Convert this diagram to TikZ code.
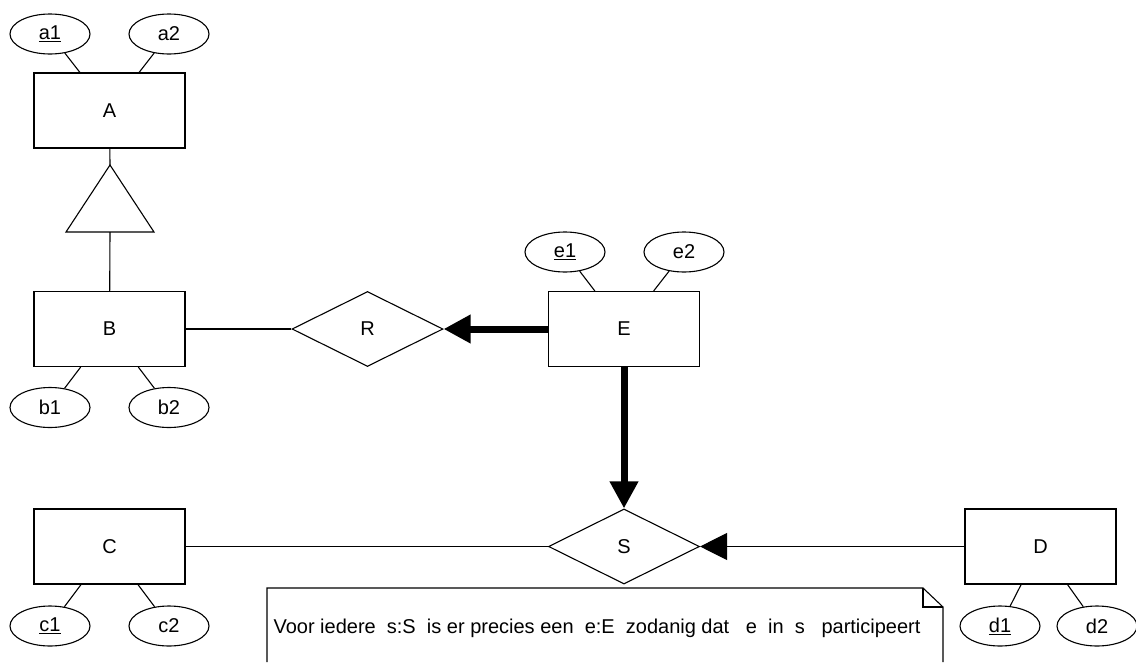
\documentclass[tikz,border=0pt]{standalone}
\usepackage{fontspec}
\setmainfont{Liberation Sans}
\usetikzlibrary{shapes.geometric}
\usetikzlibrary{arrows.meta}
\tikzset{
	entity/.style={
		draw,
		rectangle,
		minimum width=151pt,
		minimum height=75pt
	},
	attrib/.style={
		draw,
		ellipse,
		inner sep=0pt,
		minimum width=80pt,
		minimum height=40pt
	},
	relship/.style={
		draw,
		diamond,
		inner sep=0pt,
		minimum width=151pt,
		minimum height=75pt
	}
}

\begin{document}
\begin{tikzpicture}[x=1pt,y=-1pt,line width=1.1pt,font=\fontsize{20}{24}\selectfont,
	total/.style={line width=7pt,-{Triangle[length=27pt,width=27pt]}},
	onearrow/.style={-{Triangle[length=27pt,width=27pt]}}]
	\useasboundingbox (0,0) rectangle (1136,662);

	% entities and relationships
	\node[entity] (A) at (109.5,110.5) {A};
	\node[entity] (B) at (109.5,329) {B};
	\node[entity] (C) at (109.5,546.5) {C};
	\node[entity] (E) at (624,329) {E};
	\node[entity] (D) at (1040.5,546.5) {D};
	\node[relship] (R) at (367.5,329) {R};
	\node[relship] (S) at (624,546.5) {S};

	% attributes
	\node[attrib] (a1) at (50,34) {\underline{a1}};
	\node[attrib] (a2) at (169,34) {a2};
	\node[attrib] (b1) at (50,407.5) {b1};
	\node[attrib] (b2) at (169,407.5) {b2};
	\node[attrib] (c1) at (50,626) {\underline{c1}};
	\node[attrib] (c2) at (169,626) {c2};
	\node[attrib] (e1) at (565,252) {\underline{e1}};
	\node[attrib] (e2) at (684,252) {e2};
	\node[attrib] (d1) at (1000,626) {\underline{d1}};
	\node[attrib] (d2) at (1097,626) {d2};
	\foreach \x/\y in {a1/A,a2/A,b1/B,b2/B,c1/C,c2/C,e1/E,e2/E,d1/D,d2/D}
		\draw (\x) -- (\y);

	% isa
	\coordinate (isatop) at (110,165);
	\coordinate (isabase) at (110,232);
	\draw (isatop) -- (154,232) -- (66,232) -- cycle;
	\draw (A) -- (isatop);
	\draw (isabase) -- (B);

	% connectors
	\draw (B) -- (R);
	\draw[total] (E) -- (R);
	\draw[total] (E) -- (S);
	\draw (C) -- (S);
	\draw[onearrow] (D) -- (S);

	% note
	\draw (267,662) -- (267,588) -- (923,588) -- (943,607) -- (943,662);
	\draw (923,588) -- (923,607) -- (943,607);
	\node[anchor=base west,inner sep=0pt] (note) at (273,633) {Voor iedere\ \ s:S\ \ is er precies een\ \ e:E\ \ zodanig dat\ \ \ e\ \ in\ \ s\ \ \ participeert};
\end{tikzpicture}
\end{document}
